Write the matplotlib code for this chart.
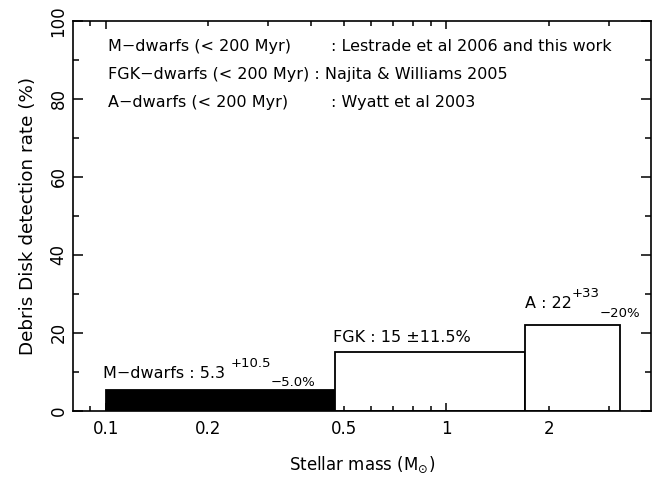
import numpy as np
import matplotlib
matplotlib.use('Agg')
import matplotlib.pyplot as plt
from matplotlib.ticker import FixedLocator, FixedFormatter

plt.rcParams['font.family'] = ['DejaVu Sans']
plt.rcParams['mathtext.fontset'] = 'dejavusans'
plt.rcParams['axes.linewidth'] = 1.2

# bins in stellar mass (Msun) and detection rates (%)
bin_edges = [0.1, 0.47, 1.7, 3.25]
rates = [5.3, 15.0, 22.0]
bar_colors = ['black', 'white', 'white']

# bar labels: main part, superscript, subscript
label_main = ['M\u2212dwarfs : 5.3 ', 'FGK : 15 \u00b111.5%', 'A : 22']
label_sup = ['+10.5', '', '+33']
label_sub = ['\u22125.0%', '', '\u221220%']

# references written at the top
ref_left = ['M\u2212dwarfs (< 200 Myr)', 'FGK\u2212dwarfs (< 200 Myr) : Najita & Williams 2005',
            'A\u2212dwarfs (< 200 Myr)']
ref_right = [': Lestrade et al 2006 and this work', '', ': Wyatt et al 2003']

x_major = [0.1, 1]
x_minor = [0.09, 0.2, 0.3, 0.4, 0.5, 0.6, 0.7, 0.8, 0.9, 2, 3]
x_minor_labels = {0.2: '0.2', 0.5: '0.5', 2: '2'}

fig = plt.figure(figsize=(6.55, 4.78), dpi=100)
ax = fig.add_axes([0.1115, 0.1408, 0.8824, 0.8152])

left = np.array(bin_edges[:-1])
widths = np.diff(bin_edges)
ax.bar(left, rates, width=widths, align='edge', color=bar_colors,
       edgecolor='black', linewidth=1.3, zorder=1)

ax.set_xscale('log')
ax.set_xlim(0.08, 4.0)
ax.set_ylim(0, 100)

ax.xaxis.set_major_locator(FixedLocator(x_major))
ax.xaxis.set_major_formatter(FixedFormatter(['0.1', '1']))
ax.xaxis.set_minor_locator(FixedLocator(x_minor))
ax.xaxis.set_minor_formatter(FixedFormatter([x_minor_labels.get(v, '') for v in x_minor]))
ax.set_yticks(np.arange(0, 101, 20))
ax.set_yticks(np.arange(10, 100, 20), minor=True)

ax.tick_params(which='both', direction='in', top=True, right=True, width=1.1,
               labelsize=12, zorder=5)
ax.tick_params(axis='x', which='major', length=6, pad=7)
ax.tick_params(axis='x', which='minor', length=3.5, pad=7)
ax.tick_params(axis='y', which='major', length=7, pad=4)
ax.tick_params(axis='y', which='minor', length=4.3)
for lab in ax.get_yticklabels():
    lab.set_rotation(90)
    lab.set_va('center')

ax.set_xlabel('Stellar mass (M$_{\\odot}$)', fontsize=12, labelpad=12)
ax.set_ylabel('Debris Disk detection rate (%)', fontsize=13.2, labelpad=9)

# labels above each bar
offsets = [(-2, 8.6), (-1, 7.7), (0, 12.0)]
for i in range(len(rates)):
    t0 = ax.annotate(label_main[i], xy=(left[i], rates[i]), xytext=offsets[i],
                     textcoords='offset points', fontsize=11.5, va='baseline')
    if label_sup[i]:
        t1 = ax.annotate(label_sup[i], xy=(1, 0), xycoords=t0, xytext=(0, 8),
                         textcoords='offset points', fontsize=9.5, va='bottom')
        ax.annotate(label_sub[i], xy=(1, 0), xycoords=t1, xytext=(0, -14),
                    textcoords='offset points', fontsize=9.5, va='bottom')

# reference list
ref_y = [0.923, 0.851, 0.779]
for i in range(3):
    ax.text(0.06, ref_y[i], ref_left[i], transform=ax.transAxes, fontsize=11.5, va='baseline')
    if ref_right[i]:
        ax.text(0.446, ref_y[i], ref_right[i], transform=ax.transAxes, fontsize=11.5,
                va='baseline')

fig.savefig('out.png', dpi=100)
